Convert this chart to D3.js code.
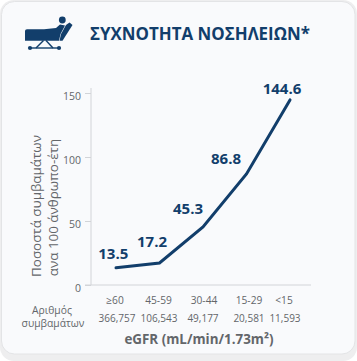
<!DOCTYPE html>
<html>
<head>
	<meta charset="utf-8">
	<title>Συχνότητα νοσηλειών</title>
	<script src="https://cdn.jsdelivr.net/npm/d3@7/dist/d3.min.js"></script>
</head>
<style type="text/css">
	html, body { margin:0; padding:0; background:#ffffff; }
	svg { display:block; font-family:"Open Sans", "Noto Sans", sans-serif; }
</style>
<body>
</body>
</html>
<script type="text/javascript">
	var categories = ["≥60", "45-59", "30-44", "15-29", "<15"];
	var counts = ["366,757", "106,543", "49,177", "20,581", "11,593"];
	var rates = [13.5, 17.2, 45.3, 86.8, 144.6];
	var yTicks = [0, 50, 100, 150];

	var navy = "#123e6b", grey = "#63666a", axisGrey = "#d2d4d8";
	var width = 357, height = 361;
	var svg = d3.select("body").append("svg").attr("width", width).attr("height", height);

	// card
	svg.append("rect").attr("x", 0).attr("y", 0).attr("width", 357).attr("height", 361).attr("rx", 14).attr("fill", "#eeeeef");
	svg.append("rect").attr("x", 1.5).attr("y", 1.5).attr("width", 353.5).attr("height", 352.5).attr("rx", 13)
		.attr("fill", "#f9fafc").attr("stroke", "#e3e4e6").attr("stroke-width", 1);

	// bed icon
	var icon = svg.append("g").attr("fill", navy).attr("stroke", "none");
	icon.append("path").attr("d", "M25 31 Q25 29.3 27 29.3 L44 29.3 L56 28 L60 24.5 L65 25.5 L60.5 34 L59 40.8 L25 40.8 Z");
	icon.append("path").attr("d", "M66 25 L69.5 22.5 L72.5 25 L62.5 40.8 L59.5 40.8 L61 34 Z");
	icon.append("circle").attr("cx", 62.3).attr("cy", 20).attr("r", 3.4);
	icon.append("circle").attr("cx", 30).attr("cy", 48).attr("r", 2.1);
	icon.append("circle").attr("cx", 59).attr("cy", 48).attr("r", 2.1);
	icon.append("g").attr("fill", "none").attr("stroke", navy).attr("stroke-width", 1.4).selectAll("path")
		.data(["M30 48 H59", "M36 48 L43.5 40.5", "M53 48 L46 40.5"]).enter().append("path").attr("d", function(d){return d});

	svg.append("text").attr("x", 90).attr("y", 39.5).attr("fill", navy)
		.attr("font-size", 16.9).attr("font-weight", 700).text("ΣΥΧΝΟΤΗΤΑ ΝΟΣΗΛΕΙΩΝ*");

	var x = d3.scalePoint().domain(categories).range([116, 290]);
	var y = d3.scaleLinear().domain([0, 150]).range([285, 93]);

	// y axis
	var gy = svg.append("g").attr("transform", "translate(91,0)")
		.call(d3.axisLeft(y).tickValues(yTicks).tickSize(6).tickPadding(4));
	gy.select(".domain").attr("d", "M0," + y(0) + "V88").attr("stroke", axisGrey);
	gy.selectAll("line").attr("stroke", axisGrey);
	gy.selectAll("text").attr("fill", grey).attr("font-size", 10.5).attr("font-family", "Open Sans").attr("dy", "0.62em");

	// x axis line
	svg.append("line").attr("x1", 85).attr("x2", 311).attr("y1", y(0)).attr("y2", y(0)).attr("stroke", axisGrey);

	var line = d3.line().x(function(d,i){return x(categories[i])}).y(function(d){return y(d)});
	svg.append("path").datum(rates).attr("d", line).attr("fill", "none").attr("stroke", navy)
		.attr("stroke-width", 3).attr("stroke-linecap", "round");

	// value labels sit up and to the left of their points
	var rateDx = [-2.7, -7.5, -15, -20.5, -8];
	var rateDy = [-8.7, -16.3, -13, -10, -6];
	svg.selectAll(".rate").data(rates).enter().append("text").attr("class", "rate")
		.attr("x", function(d,i){return x(categories[i]) + rateDx[i]})
		.attr("y", function(d,i){return y(d) + rateDy[i]})
		.attr("text-anchor", "middle").attr("fill", navy).attr("font-size", 15).attr("font-weight", 700)
		.text(function(d){return d});

	var catDx = [-1, -1, 1, 2.5, -6];
	var countDx = [1, -0.5, 0, 2.5, -5];
	svg.selectAll(".cat").data(categories).enter().append("text").attr("class", "cat")
		.attr("x", function(d,i){return x(d) + catDx[i]}).attr("y", 304)
		.attr("text-anchor", "middle").attr("fill", grey).attr("font-size", 10.2).text(function(d){return d});
	svg.selectAll(".count").data(counts).enter().append("text").attr("class", "count")
		.attr("x", function(d,i){return x(categories[i]) + countDx[i]}).attr("y", 321.5)
		.attr("text-anchor", "middle").attr("fill", grey).attr("font-size", 10).text(function(d){return d});

	svg.append("text").attr("x", 52).attr("y", 314).attr("text-anchor", "middle").attr("fill", grey).attr("font-size", 10.3).text("Αριθμός");
	svg.append("text").attr("x", 53).attr("y", 327).attr("text-anchor", "middle").attr("fill", grey).attr("font-size", 10.3).text("συμβαμάτων");

	svg.append("text").attr("x", 199).attr("y", 344).attr("text-anchor", "middle").attr("fill", grey)
		.attr("font-size", 13.4).attr("font-weight", 700).text("eGFR (mL/min/1.73m²)");

	// y title
	svg.append("text").attr("transform", "translate(41,206) rotate(-90)").attr("text-anchor", "middle")
		.attr("fill", grey).attr("font-size", 13.4).text("Ποσοστά συμβαμάτων");
	svg.append("text").attr("transform", "translate(58,207.5) rotate(-90)").attr("text-anchor", "middle")
		.attr("fill", grey).attr("font-size", 13.4).text("ανα 100 άνθρωπο-έτη");
</script>
